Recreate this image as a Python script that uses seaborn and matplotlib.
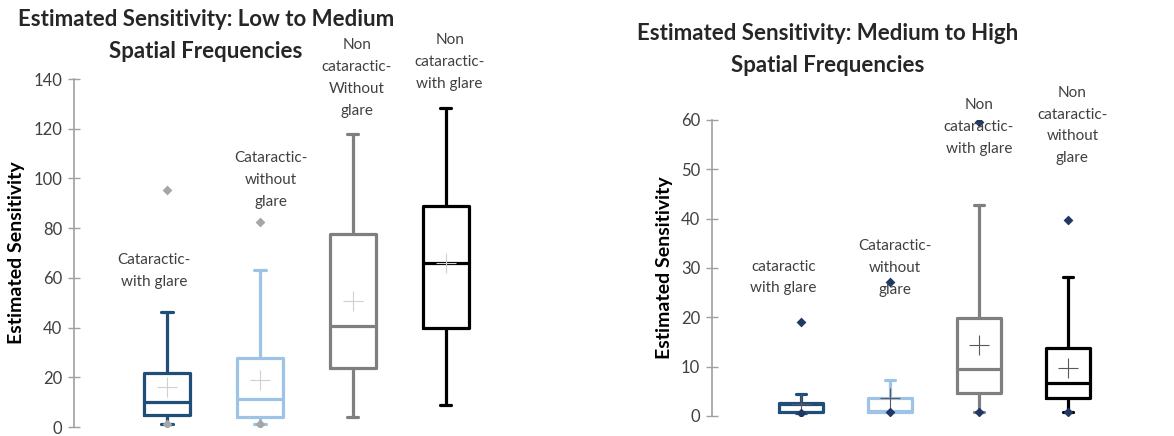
import matplotlib
matplotlib.use("Agg")
import matplotlib.pyplot as plt
import pandas as pd
import seaborn as sns

# -----------------------------
# Data
# -----------------------------

LOW_GROUPS = [
    "Cataractic-\nwith glare",
    "Cataractic-\nwithout\nglare",
    "Non\ncataractic-\nWithout\nglare",
    "Non\ncataractic-\nwith glare",
]
# min, q1, median, q3, max (whisker ends)
LOW_STATS = [
    [1.1, 4.8, 10.2, 21.8, 46.4],
    [1.1, 4.2, 11.3, 27.9, 63.0],
    [4.2, 23.9, 40.8, 77.5, 117.7],
    [8.8, 39.7, 66.1, 88.9, 128.2],
]
LOW_MEANS = [16.2, 18.9, 50.7, 65.8]
LOW_POINT_GROUP = [0, 1, 0, 1]
LOW_POINT_VALUE = [95.5, 82.6, 1.1, 1.1]

HIGH_GROUPS = [
    "cataractic\nwith glare",
    "Cataractic-\nwithout\nglare",
    "Non\ncataractic-\nwith glare",
    "Non\ncataractic-\nwithout\nglare",
]
HIGH_STATS = [
    [0.6, 0.9, 2.5, 2.7, 4.4],
    [0.8, 0.9, 1.0, 3.6, 7.3],
    [0.9, 4.7, 9.6, 19.9, 42.8],
    [0.8, 3.6, 6.6, 13.7, 28.2],
]
HIGH_MEANS = [2.4, 3.6, 14.4, 9.8]
HIGH_POINT_GROUP = [0, 1, 2, 3, 0, 1, 2, 3]
HIGH_POINT_VALUE = [19.1, 27.2, 59.5, 39.7, 0.6, 0.8, 0.9, 0.8]

LOW_TITLE = ["Estimated Sensitivity: Low to Medium", "Spatial Frequencies"]
HIGH_TITLE = ["Estimated Sensitivity: Medium to High", "Spatial Frequencies"]

# -----------------------------
# Style
# -----------------------------

sns.set_style("white")
plt.rcParams["font.family"] = ["Lato", "DejaVu Sans"]

BOX_COLORS = ["#1F4E79", "#9DC3E6", "#7F7F7F", "#000000"]
AXIS_GREY = "#A0A0A0"
TEXT_DARK = "#404040"


def long_frame(groups, stats):
    rows = []
    for g, vals in zip(groups, stats):
        for v in vals:
            rows.append({"group": g, "value": v})
    return pd.DataFrame(rows)


def draw_panel(ax, groups, stats, means, pt_group, pt_value,
               ylim, yticks, label_x, label_y,
               mean_color, point_color):
    df = long_frame(groups, stats)

    sns.boxplot(
        data=df, x="group", y="value", hue="group", order=groups,
        hue_order=groups, palette=BOX_COLORS, fill=False, whis=(0, 100),
        width=0.5, linewidth=2.3, showfliers=False, legend=False, ax=ax,
        capwidths=0.12,
    )

    mean_df = pd.DataFrame({"group": groups, "value": means})
    sns.stripplot(
        data=mean_df, x="group", y="value", order=groups, jitter=False,
        marker="+", size=14, linewidth=0.8, color=mean_color, ax=ax,
    )

    pts = pd.DataFrame({
        "group": [groups[i] for i in pt_group],
        "value": pt_value,
    })
    sns.stripplot(
        data=pts, x="group", y="value", order=groups, jitter=False,
        marker="D", size=5, color=point_color, linewidth=0, ax=ax,
    )

    for g, lx, ly in zip(groups, label_x, label_y):
        ax.text(lx, ly, g, ha="center", va="center", fontsize=11,
                color=TEXT_DARK, linespacing=1.7, clip_on=False)

    ax.set_xlim(-1, 4)
    ax.set_ylim(*ylim)
    ax.set_yticks(yticks)
    ax.set_xticks([])
    ax.set_xlabel("")
    ax.set_ylabel("Estimated Sensitivity", fontsize=14, fontweight="bold",
                  color="black", labelpad=6)
    ax.tick_params(axis="y", direction="inout", length=9, width=1,
                   color=AXIS_GREY, labelsize=12, labelcolor=TEXT_DARK,
                   left=True, pad=4)
    for side in ["top", "right", "bottom"]:
        ax.spines[side].set_visible(False)
    ax.spines["left"].set_color(AXIS_GREY)
    ax.spines["left"].set_linewidth(1.2)


def draw_title(fig, lines, x_px, y_px):
    # each title line placed separately (two-line chart title)
    for line, y in zip(lines, y_px):
        fig.text(x_px / 1174, 1 - y / 436, line, ha="center", va="center",
                 fontsize=16, fontweight="bold")


fig = plt.figure(figsize=(11.74, 4.36), dpi=100)

ax1 = fig.add_axes([0.063, 0.0206, 0.396, 0.7982])
draw_panel(
    ax1, LOW_GROUPS, LOW_STATS, LOW_MEANS, LOW_POINT_GROUP, LOW_POINT_VALUE,
    (0, 140), [0, 20, 40, 60, 80, 100, 120, 140],
    [-0.14, 1.12, 2.04, 3.04], [62.8, 99.4, 140.4, 146.8],
    "#D0D0D0", "#A6A6A6",
)

ax2 = fig.add_axes([0.6065, 0.0459, 0.379, 0.6789])
draw_panel(
    ax2, HIGH_GROUPS, HIGH_STATS, HIGH_MEANS, HIGH_POINT_GROUP,
    HIGH_POINT_VALUE,
    (0, 60), [0, 10, 20, 30, 40, 50, 60],
    [-0.2, 1.05, 2.0, 3.05], [28.1, 30.0, 58.6, 58.9],
    "#595959", "#203864",
)

draw_title(fig, LOW_TITLE, 206, [20, 52])
draw_title(fig, HIGH_TITLE, 828, [33, 65])

fig.savefig("out.png", dpi=100)
